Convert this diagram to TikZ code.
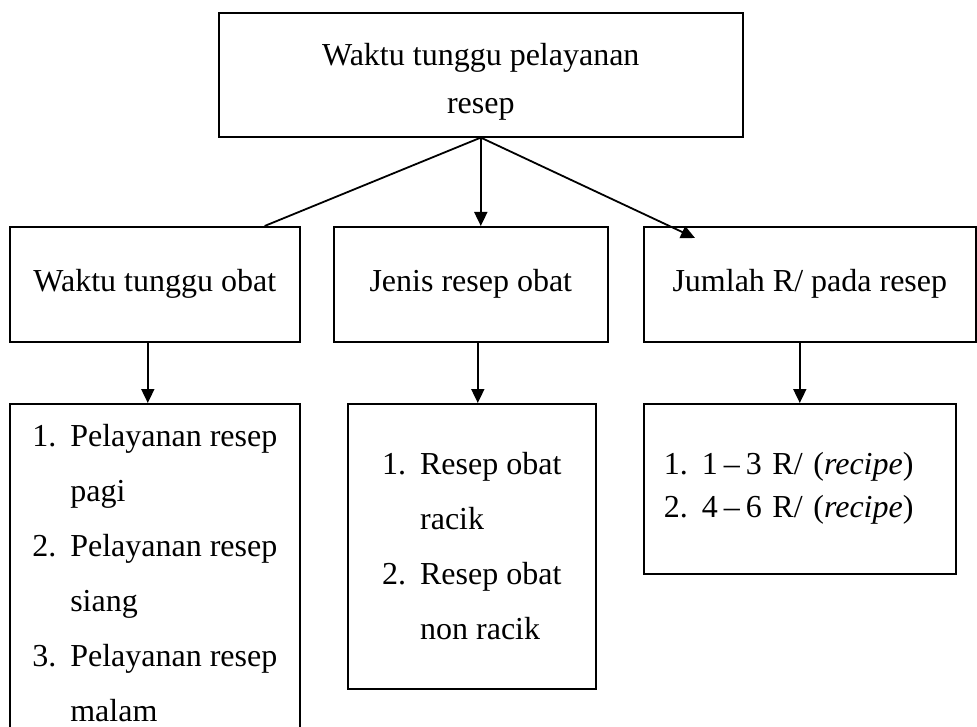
\documentclass[tikz,border=0pt]{standalone}
\usepackage{fontspec}
\setmainfont{Liberation Serif}
\usetikzlibrary{positioning,arrows.meta}

\newcommand{\numitem}[2]{\makebox[38pt][l]{#1}#2}
\newcommand{\contline}[1]{\hspace*{38pt}#1}

\begin{document}
\begin{tikzpicture}[x=1pt, y=-1pt,
        box/.style={rectangle, draw=black, line width=1.6pt, fill=white,
        inner sep=0pt, anchor=north west, font=\fontsize{32}{38}\selectfont},
        listbox/.style={box, align=left, font=\fontsize{32}{55}\selectfont},
        link/.style={-{Triangle[length=14pt, width=13pt]}, line width=1.8pt},
        plainlink/.style={line width=1.8pt},
      ]
      \clip (0,0) rectangle (977,727);

      % Top box
      \node[box, minimum width=524pt, minimum height=124pt, align=center,
      font=\fontsize{32}{48}\selectfont] (top) at (218,12)
      {\rule{0pt}{37pt}Waktu tunggu pelayanan\\resep};

      % Second row
      \node[box, minimum width=290pt, minimum height=115pt] (wt) at (9,226)
      {Waktu tunggu obat};
      \node[box, minimum width=274pt, minimum height=115pt] (jr) at (333,226)
      {Jenis resep obat};
      \node[box, minimum width=332pt, minimum height=115pt] (jm) at (643,226)
      {Jumlah R/ pada resep};

      % Third row - the left box runs past the bottom edge
      \node[listbox, minimum width=290pt, minimum height=338pt] (pagi) at (9,403)
      {\numitem{1.}{Pelayanan resep}\\ \contline{pagi}\\
       \numitem{2.}{Pelayanan resep}\\ \contline{siang}\\
       \numitem{3.}{Pelayanan resep}\\ \contline{malam}};
      \node[listbox, minimum width=248pt, minimum height=285pt] (racik) at (347,403)
      {\numitem{1.}{Resep obat}\\ \contline{racik}\\
       \numitem{2.}{Resep obat}\\ \contline{non racik}};
      \node[listbox, font=\fontsize{32}{43}\selectfont, inner xsep=20pt,
      text width=272pt, minimum height=170pt] (recipe) at (643,403)
      {\numitem{1.}{1\hspace{6pt}--\hspace{6pt}3 R/ (\textit{recipe})}\\
       \numitem{2.}{4\hspace{6pt}--\hspace{6pt}6 R/ (\textit{recipe})}};

      % Links from the top box
      \draw[plainlink] (top.south) -- ([xshift=-36pt]wt.north east);
      \draw[link] (top.south) -- (top.south |- jr.north);
      \draw[link] (top.south) -- ([xshift=52pt, yshift=-12pt]jm.north west);

      % Links down to the lists
      \draw[link] ([xshift=-7pt]wt.south) -- ([xshift=-7pt]wt.south |- pagi.north);
      \draw[link] ([xshift=7pt]jr.south) -- ([xshift=7pt]jr.south |- racik.north);
      \draw[link] (recipe.north |- jm.south) -- (recipe.north);
    \end{tikzpicture}
\end{document}
